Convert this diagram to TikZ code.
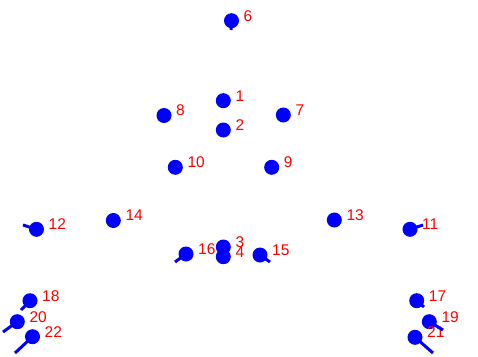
\documentclass[tikz,border=0pt]{standalone}
\usepackage{fontspec}
\setmainfont{Liberation Sans}
\usetikzlibrary{positioning}

\begin{document}
\begin{tikzpicture}[x=1pt, y=-1pt, label distance=4.5pt,
    kp/.style={circle, fill=blue, inner sep=0pt, outer sep=0pt, minimum size=15pt},
    lbl/.style={text=red, inner sep=0pt, yshift=5pt, font=\fontsize{15.5}{15.5}\selectfont},
    tail/.style={draw=blue, line width=3pt}]
    \useasboundingbox (0,0) rectangle (478,356);
    % end points of the short direction marks
    \coordinate (t6) at (231,30);
    \coordinate (t12) at (23,225);
    \coordinate (t11) at (423,225);
    \coordinate (t16) at (175,262);
    \coordinate (t15) at (270,262);
    \coordinate (t18) at (21,310);
    \coordinate (t20) at (3,332);
    \coordinate (t22) at (15,353);
    \coordinate (t17) at (424,307);
    \coordinate (t19) at (443,330);
    \coordinate (t21) at (433,353);
    % key points
    \node[kp, label={[lbl]right:6}] (k6) at (231.5,20.7) {};
    \node[kp, label={[lbl]right:1}] (k1) at (223.3,100.7) {};
    \node[kp, label={[lbl]right:8}] (k8) at (164,115.5) {};
    \node[kp, label={[lbl]right:7}] (k7) at (283.3,115) {};
    \node[kp, label={[lbl]right:2}] (k2) at (223.3,130) {};
    \node[kp, label={[lbl]right:10}] (k10) at (175.3,167.3) {};
    \node[kp, label={[lbl]right:9}] (k9) at (271.7,167.3) {};
    \node[kp, label={[lbl]right:12}] (k12) at (36.5,229.3) {};
    \node[kp, label={[lbl]right:14}] (k14) at (113.3,220.5) {};
    \node[kp, label={[lbl]right:13}] (k13) at (334.3,220) {};
    \node[kp, label={[lbl]right:11}] (k11) at (410,229.3) {};
    \node[kp, label={[lbl]right:16}] (k16) at (186,254) {};
    \node[kp, label={[lbl]right:3}] (k3) at (223.3,247) {};
    \node[kp, label={[lbl]right:4}] (k4) at (223.3,256.7) {};
    \node[kp, label={[lbl]right:15}] (k15) at (260,255) {};
    \node[kp, label={[lbl]right:18}] (k18) at (30,300.7) {};
    \node[kp, label={[lbl]right:20}] (k20) at (17.3,321.7) {};
    \node[kp, label={[lbl]right:22}] (k22) at (32.5,336.7) {};
    \node[kp, label={[lbl]right:17}] (k17) at (416.7,300.7) {};
    \node[kp, label={[lbl]right:19}] (k19) at (429.3,321.7) {};
    \node[kp, label={[lbl]right:21}] (k21) at (415,337.3) {};
    % direction marks
    \foreach \k in {6,12,11,16,15,18,20,22,17,19,21}
        \draw[tail] (k\k.center) -- (t\k);
\end{tikzpicture}
\end{document}
